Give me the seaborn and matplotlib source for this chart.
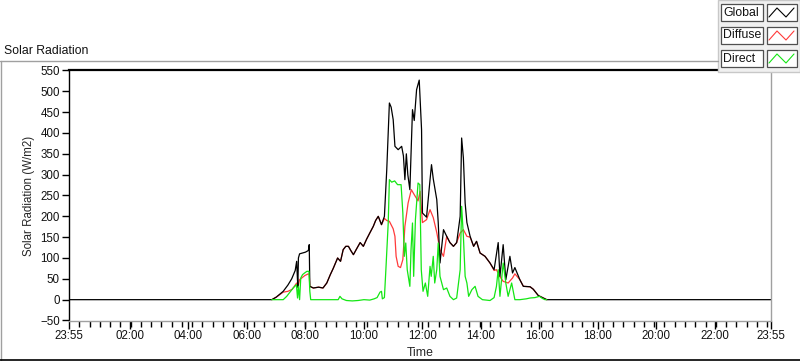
"""
Solar radiation day chart (Global / Diffuse / Direct) in a LabVIEW-like frame.
"""

import pandas as pd
import matplotlib
matplotlib.use("Agg")
import matplotlib.pyplot as plt
import seaborn as sns
from matplotlib.patches import Rectangle
from matplotlib.lines import Line2D

# time axis runs from 23:55 (previous day) to 23:55, in hours since midnight
T0 = -5 / 60
T1 = 24 - 5 / 60

global_t = [T0, 6.85, 7.0, 7.24, 7.4, 7.53, 7.65, 7.70, 7.72, 7.74, 7.76, 7.80, 8.0, 8.10,
            8.13, 8.15, 8.27, 8.45, 8.6, 8.73, 8.85, 8.95, 9.1, 9.2, 9.29, 9.38, 9.47, 9.55,
            9.64, 9.75, 9.87, 9.98, 10.09, 10.2, 10.32, 10.4, 10.49, 10.6, 10.7, 10.78,
            10.87, 10.93, 11.0, 11.06, 11.17, 11.29, 11.35, 11.40, 11.45, 11.50, 11.57,
            11.66, 11.72, 11.80, 11.89, 11.97, 12.0, 12.14, 12.26, 12.31, 12.37, 12.49,
            12.54, 12.60, 12.72, 12.83, 12.94, 13.06, 13.17, 13.29, 13.34, 13.40, 13.46,
            13.52, 13.63, 13.75, 13.85, 13.97, 14.14, 14.31, 14.45, 14.59, 14.65, 14.76,
            14.85, 14.99, 15.08, 15.16, 15.33, 15.45, 15.68, 15.79, 15.96, 16.19, 16.25, T1]
global_v = [0, 0, 6, 20, 35, 50, 70, 92, 60, 30, 100, 110, 114, 118,
            132, 32, 28, 30, 28, 40, 60, 75, 100, 92, 120, 128, 128, 118,
            108, 122, 137, 128, 145, 160, 176, 190, 200, 180, 200, 312,
            472, 462, 432, 368, 360, 368, 345, 288, 350, 300, 264,
            456, 430, 504, 527, 408, 208, 198, 288, 324, 290, 240,
            185, 88, 168, 152, 137, 128, 137, 200, 388, 340, 232,
            185, 152, 128, 140, 112, 104, 88, 72, 137, 56, 132,
            48, 104, 64, 77, 48, 32, 31, 25, 10, 2, 0, 0]

diffuse_t = [6.85, 7.0, 7.24, 7.4, 7.55, 7.70, 7.74, 7.80, 7.98, 8.10, 8.13, 8.15, 8.27,
             8.45, 8.6, 8.73, 8.85, 8.95, 9.1, 9.2, 9.29, 9.38, 9.47, 9.55, 9.64, 9.75, 9.87,
             9.98, 10.09, 10.2, 10.32, 10.4, 10.49, 10.6, 10.7, 10.78, 10.87, 11.0, 11.06,
             11.1, 11.17, 11.25, 11.33, 11.40, 11.51, 11.62, 11.72, 11.85, 11.92, 12.0,
             12.14, 12.26, 12.37, 12.49, 12.60, 12.72, 12.83, 12.94, 13.06, 13.17, 13.29,
             13.40, 13.52, 13.63, 13.75, 13.85, 13.97, 14.14, 14.31, 14.45, 14.53, 14.65,
             14.76, 14.93, 15.08, 15.16, 15.33, 15.45, 15.68, 15.79, 15.96, 16.19, 16.25]
diffuse_v = [0, 6, 18, 20, 25, 40, 30, 48, 58, 62, 60, 32, 28,
             30, 28, 40, 60, 75, 100, 92, 120, 128, 128, 118, 108, 122, 137,
             128, 145, 160, 176, 190, 200, 180, 195, 190, 188, 170, 152,
             104, 80, 77, 96, 176, 232, 264, 252, 237, 260, 185,
             192, 216, 197, 161, 120, 104, 152, 137, 128, 137, 160,
             168, 152, 150, 128, 140, 112, 104, 88, 70, 72, 55,
             44, 40, 52, 62, 48, 32, 31, 25, 10, 2, 0]

direct_t = [6.85, 7.24, 7.36, 7.58, 7.69, 7.73, 7.76, 7.80, 7.84, 7.90, 7.97, 8.05, 8.12,
            8.15, 8.18, 9.0, 9.12, 9.18, 9.25, 9.4, 9.6, 9.8, 10.0, 10.2, 10.35, 10.45,
            10.55, 10.6, 10.63, 10.7, 10.75, 10.83, 10.87, 10.95, 11.05, 11.15, 11.27, 11.33,
            11.38, 11.43, 11.48, 11.57, 11.61, 11.66, 11.70, 11.76, 11.85, 11.91, 11.96,
            12.02, 12.10, 12.18, 12.26, 12.30, 12.37, 12.42, 12.49, 12.54, 12.60, 12.72,
            12.83, 12.94, 13.06, 13.17, 13.29, 13.34, 13.40, 13.46, 13.52, 13.58, 13.69,
            13.80, 13.90, 14.05, 14.31, 14.45, 14.53, 14.59, 14.65, 14.76, 14.85, 14.93,
            15.05, 15.16, 15.33, 15.55, 15.68, 15.85, 16.0, 16.1, 16.19, 16.25]
direct_v = [0, 0, 8, 28, 36, 4, 32, 0, 52, 60, 64, 68, 68,
            20, 0, 0, 0, 8, 2, -2, -3, -2, 0, -1, 2, 5,
            18, 20, 2, 5, 72, 184, 288, 282, 285, 276, 276, 208,
            104, 136, 72, 32, 120, 184, 56, 192, 280, 276, 72,
            20, 40, 8, 80, 56, 104, 40, 72, 136, 56, 24,
            28, 8, 0, 4, 72, 224, 152, 56, 40, 8, 24,
            32, 8, 0, -2, 5, 32, 72, 8, 88, 40, 8,
            40, 0, 0, 2, 4, 5, 8, 3, 0, 0]

series_names = ["Global", "Diffuse", "Direct"]
series_colors = {"Global": "#000000", "Diffuse": "#ff3a3a", "Direct": "#14e614"}

x_major = [T0, 2, 4, 6, 8, 10, 12, 14, 16, 18, 20, 22, T1]
x_labels = ["23:55", "02:00", "04:00", "06:00", "08:00", "10:00", "12:00",
            "14:00", "16:00", "18:00", "20:00", "22:00", "23:55"]
y_ticks = list(range(-50, 551, 50))

df = pd.concat([
    pd.DataFrame({"hour": global_t, "value": global_v, "series": "Global"}),
    pd.DataFrame({"hour": diffuse_t, "value": diffuse_v, "series": "Diffuse"}),
    pd.DataFrame({"hour": direct_t, "value": direct_v, "series": "Direct"}),
], ignore_index=True)

sns.set_style("white")
plt.rcParams["font.family"] = ["Liberation Sans", "DejaVu Sans"]
FS = 8.3

W, H = 800, 361
fig = plt.figure(figsize=(W / 100, H / 100), dpi=100)
fig.patch.set_facecolor("white")


def fx(px):
    return px / W


def fy(py):
    return 1 - py / H


ax = fig.add_axes([fx(69), fy(320.5), fx(702), (320.5 - 70.5) / H])

# diffuse below global, direct on top
for name in ["Diffuse", "Global", "Direct"]:
    sns.lineplot(data=df[df["series"] == name], x="hour", y="value",
                 color=series_colors[name], linewidth=0.9,
                 estimator=None, sort=False, ax=ax, legend=False)

ax.set_xlim(T0, T1)
ax.set_ylim(-50, 550)
ax.set_xticks(x_major)
ax.set_xticklabels(x_labels)
minor = [T0 + k * 0.351 for k in range(1, 69)]
ax.set_xticks([m for m in minor if m < T1 - 0.05], minor=True)
ax.set_yticks(y_ticks)
ax.tick_params(axis="both", which="both", direction="out", width=1,
               bottom=True, left=True, color="black", labelsize=FS,
               labelcolor="#111111", pad=1.5)
ax.tick_params(axis="x", which="minor", length=4)
ax.tick_params(axis="x", which="major", length=5.5)
ax.tick_params(axis="y", which="major", length=5)

ax.spines["top"].set_color("black")
ax.spines["top"].set_linewidth(1.6)
ax.spines["left"].set_color("black")
ax.spines["left"].set_linewidth(1)
ax.spines["right"].set_color("#a0a0a0")
ax.spines["right"].set_linewidth(1)
ax.spines["bottom"].set_color("#a0a0a0")
ax.spines["bottom"].set_linewidth(1)

ax.set_xlabel("Time", fontsize=FS + 0.5)
ax.xaxis.set_label_coords(0.5, -0.105)
ax.set_ylabel("Solar Radiation (W/m2)", fontsize=FS)
ax.yaxis.set_label_coords(-0.048, 0.5)

# outer frame and caption
fig.add_artist(Line2D([0, fx(718)], [fy(61), fy(61)], color="#a0a0a0", lw=1,
                      transform=fig.transFigure))
fig.add_artist(Line2D([fx(0.5), fx(0.5)], [fy(61), fy(360)], color="#a0a0a0", lw=1,
                      transform=fig.transFigure))
fig.add_artist(Line2D([0, 1], [fy(360), fy(360)], color="black", lw=1.2,
                      transform=fig.transFigure))
fig.text(fx(4), fy(50.5), "Solar Radiation", fontsize=FS + 0.5, va="center", ha="left",
         color="#111111")

# legend panel
fig.add_artist(Rectangle((fx(718), fy(72)), fx(82), 72 / H, transform=fig.transFigure,
                         facecolor="#f0f0f0", edgecolor="#c8c8c8", lw=1))
for i, name in enumerate(series_names):
    top = 4 + i * 23
    fig.add_artist(Rectangle((fx(721), fy(top + 17)), fx(42), 17 / H,
                             transform=fig.transFigure, facecolor="white",
                             edgecolor="#505050", lw=0.9))
    fig.add_artist(Rectangle((fx(767), fy(top + 17)), fx(30), 17 / H,
                             transform=fig.transFigure, facecolor="white",
                             edgecolor="#505050", lw=0.9))
    fig.text(fx(723), fy(top + 8.5), name, fontsize=FS + 0.5, va="center", ha="left",
             color="#111111")
    zx = [769, 777, 786, 794]
    zy = [top + 13, top + 4, top + 13, top + 4]
    fig.add_artist(Line2D([fx(v) for v in zx], [fy(v) for v in zy],
                          color=series_colors[name], lw=0.8, transform=fig.transFigure))

fig.savefig("out.png", dpi=100)
